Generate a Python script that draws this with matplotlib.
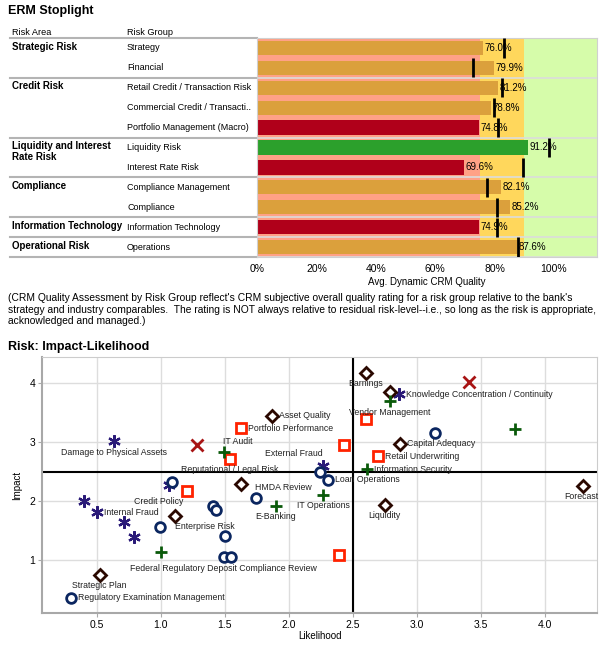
#!/usr/bin/env python3
import numpy as np
import matplotlib
matplotlib.use('Agg')
import matplotlib.pyplot as plt
from matplotlib.transforms import blended_transform_factory

plt.rcParams['font.family'] = ['Liberation Sans', 'DejaVu Sans']

#ERM stoplight data
risk_areas = ['Strategic Risk', 'Credit Risk', 'Liquidity and Interest\nRate Risk',
              'Compliance', 'Information Technology', 'Operational Risk']
area_sizes = [2, 3, 2, 2, 1, 1]
risk_groups = ['Strategy', 'Financial', 'Retail Credit / Transaction Risk',
               'Commercial Credit / Transacti..', 'Portfolio Management (Macro)',
               'Liquidity Risk', 'Interest Rate Risk', 'Compliance Management',
               'Compliance', 'Information Technology', 'Operations']
quality = [76.0, 79.9, 81.2, 78.8, 74.8, 91.2, 69.6, 82.1, 85.2, 74.9, 87.6]
target = [83.2, 72.6, 82.4, 79.9, 81.3, 98.3, 89.7, 77.3, 80.9, 80.9, 88.0]
band_limits = [75, 90, 114.5]
pct_ticks = [0, 20, 40, 60, 80, 100]

note = ("(CRM Quality Assessment by Risk Group reflect's CRM subjective overall quality rating for a risk group relative to the bank's\n"
        "strategy and industry comparables.  The rating is NOT always relative to residual risk-level--i.e., so long as the risk is appropriate,\n"
        "acknowledged and managed.)")

#Impact-likelihood data, one list per marker series
ops_x = [0.63, 0.40, 0.50, 0.71, 0.79, 1.06, 2.27, 2.86]
ops_y = [3.02, 2.01, 1.81, 1.64, 1.39, 2.27, 2.60, 3.82]
ops_lab = ['Damage to Physical Assets', '', 'Internal Fraud', '', '', '',
           'External Fraud', 'Knowledge Concentration / Continuity']

cmp_x = [0.30, 1.49, 1.55, 1.50, 0.99, 1.41, 1.43, 1.74, 1.09, 2.24, 2.31, 3.14]
cmp_y = [0.36, 1.05, 1.05, 1.41, 1.56, 1.91, 1.85, 2.06, 2.33, 2.50, 2.36, 3.16]
cmp_lab = ['Regulatory Examination Management', 'Federal Regulatory Deposit Compliance Review',
           '', '', '', '', '', '', '', '', 'Loan Operations', '']

str_x = [2.60, 2.79, 1.87, 2.87, 1.63, 1.11, 2.75, 0.52, 4.30]
str_y = [4.18, 3.86, 3.45, 2.98, 2.29, 1.75, 1.94, 0.75, 2.26]
str_lab = ['Earnings', '', 'Asset Quality', 'Capital Adequacy', 'HMDA Review',
           'Enterprise Risk', 'Liquidity', 'Strategic Plan', 'Forecast']

crd_x = [1.63, 2.70, 1.20, 1.54, 2.43, 2.60, 2.39]
crd_y = [3.24, 2.76, 2.18, 2.72, 2.95, 3.39, 1.09]
crd_lab = ['Portfolio Performance', 'Retail Underwriting', 'Credit Policy',
           'Reputational / Legal Risk', '', '', '']

it_x = [1.49, 2.61, 1.90, 2.27, 2.79, 1.00, 3.77]
it_y = [2.83, 2.54, 1.92, 2.11, 3.70, 1.13, 3.22]
it_lab = ['IT Audit', 'Information Security', 'E-Banking', 'IT Operations',
          'Vendor Management', '', '']

oth_x = [1.28, 3.41]
oth_y = [2.95, 4.02]
oth_lab = ['', '']

#Label placement (offsets in pixels, alignment)
place = {
    'right': (7, 0, 'left'), 'below': (0, -11, 'center'),
    'above_left': (-1, 12, 'right'), 'above_right': (-1, 11, 'left'),
    'below_left': (-3, -11, 'right'), 'below_right': (0, -11, 'left'),
    'right_low': (14, -3, 'left'), 'below_edge': (-2, -11, 'center'),
}
label_place = {
    'Internal Fraud': 'right', 'External Fraud': 'above_left',
    'Knowledge Concentration / Continuity': 'right',
    'Regulatory Examination Management': 'right', 'Loan Operations': 'right',
    'Asset Quality': 'right', 'Capital Adequacy': 'right', 'HMDA Review': 'right_low',
    'Enterprise Risk': 'below_right', 'Portfolio Performance': 'right',
    'Retail Underwriting': 'right', 'Credit Policy': 'below_left',
    'IT Audit': 'above_right', 'Information Security': 'right',
    'Forecast': 'below_edge',
}

W, H = 600, 645
fig = plt.figure(figsize=(6, 6.45), dpi=100)

def fx(px):
    return px / W

def fy(py):
    return 1 - py / H

#Stoplight bullet chart
ax1 = fig.add_axes([fx(257), fy(257), fx(597) - fx(257), fy(38) - fy(257)])
rows = np.arange(len(quality))
band_colors = ['#FFA186', '#FFD75C', '#D6FCAA']
lo = 0
for hi, c in zip(band_limits, band_colors):
    ax1.axvspan(lo, hi, color=c, lw=0)
    lo = hi

bar_colors = []
for q in quality:
    if q < band_limits[0]:
        bar_colors.append('#B0001A')
    elif q < band_limits[1]:
        bar_colors.append('#DBA03C')
    else:
        bar_colors.append('#2CA02C')
ax1.barh(rows, quality, height=0.72, color=bar_colors, zorder=2)
ax1.vlines(target, rows - 0.48, rows + 0.48, color='black', lw=2, zorder=4)
for r, q in zip(rows, quality):
    ax1.text(q + 0.5, r, '%.1f%%' % q, va='center', ha='left', fontsize=7, zorder=3)

ax1.set_xlim(0, band_limits[-1])
ax1.set_ylim(len(quality) - 0.5, -0.5)
ax1.set_yticks([])
ax1.set_xticks(pct_ticks)
ax1.set_xticklabels(['%d%%' % t for t in pct_ticks], fontsize=7.5)
ax1.tick_params(axis='x', length=0, pad=5)
ax1.set_xlabel('Avg. Dynamic CRM Quality', fontsize=7, labelpad=2)
for s in ax1.spines.values():
    s.set_color('#d0d0d0')

#Table to the left of the bars
tr = blended_transform_factory(fig.transFigure, ax1.transData)
ax1.text(fx(12), -0.78, 'Risk Area', transform=tr, fontsize=6.6, va='center')
ax1.text(fx(127), -0.78, 'Risk Group', transform=tr, fontsize=6.6, va='center')
start = 0
bounds = [-0.5]
for area, n in zip(risk_areas, area_sizes):
    ax1.text(fx(12), start - 0.32, area, transform=tr, fontsize=7, fontweight='bold',
             va='top', linespacing=1.05)
    start += n
    bounds.append(start - 0.5)
for r, g in zip(rows, risk_groups):
    ax1.text(fx(127), r, g, transform=tr, fontsize=6.5, va='center')
for b in bounds:
    ax1.plot([fx(10), fx(257)], [b, b], transform=tr, color='#b4b4b4', lw=1.5, clip_on=False)
    ax1.axhline(b, color='#dcdcdc', lw=1.2, zorder=1.5)

fig.text(fx(8), fy(11), 'ERM Stoplight', fontsize=9, fontweight='bold', va='center')
fig.text(fx(8), fy(293), note, fontsize=7.4, va='top', linespacing=1.2)

#Impact-likelihood scatter
ax2 = fig.add_axes([fx(42), fy(613), fx(597) - fx(42), fy(357) - fy(613)])
ax2.set_xlim(0.07, 4.41)
ax2.set_ylim(0.1, 4.45)
ax2.set_xticks([0.5, 1.0, 1.5, 2.0, 2.5, 3.0, 3.5, 4.0])
ax2.set_yticks([1, 2, 3, 4])
ax2.grid(True, color='#dddddd', lw=1)
ax2.set_axisbelow(True)
ax2.tick_params(labelsize=7.5, length=3, color='#aaaaaa', pad=2)
ax2.axvline(2.5, color='black', lw=1.5, zorder=1)
ax2.axhline(2.5, color='black', lw=1.5, zorder=1)
for s in ['left', 'bottom']:
    ax2.spines[s].set_color('#a8a8a8')
    ax2.spines[s].set_linewidth(1.5)
for s in ['top', 'right']:
    ax2.spines[s].set_color('#cccccc')
ax2.set_xlabel('Likelihood', fontsize=7, labelpad=1)
ax2.set_ylabel('Impact', fontsize=7, labelpad=5)

series = [
    (ops_x, ops_y, ops_lab, dict(marker=(6, 2, 0), color='#2A1A78', ms=9, mew=1.6)),
    (cmp_x, cmp_y, cmp_lab, dict(marker='o', mfc='white', mec='#0B2660', ms=7, mew=2)),
    (str_x, str_y, str_lab, dict(marker='D', mfc='white', mec='#2A0800', ms=6, mew=2)),
    (crd_x, crd_y, crd_lab, dict(marker='s', mfc='white', mec='#FF2200', ms=7, mew=2)),
    (it_x, it_y, it_lab, dict(marker='+', color='#0A5A0A', ms=9, mew=2)),
    (oth_x, oth_y, oth_lab, dict(marker='x', color='#A81414', ms=8, mew=2)),
]
for xs, ys, labs, style in series:
    ax2.plot(xs, ys, ls='none', zorder=3, **style)
    for x, y, lab in zip(xs, ys, labs):
        if not lab:
            continue
        dx, dy, ha = place[label_place.get(lab, 'below')]
        ax2.annotate(lab, (x, y), xytext=(dx * 0.72, dy * 0.72), textcoords='offset points',
                     ha=ha, va='center', fontsize=6.3, color='#222222', zorder=4)

fig.text(fx(8), fy(347), 'Risk: Impact-Likelihood', fontsize=9, fontweight='bold', va='center')

plt.savefig('out.png', dpi=100)
